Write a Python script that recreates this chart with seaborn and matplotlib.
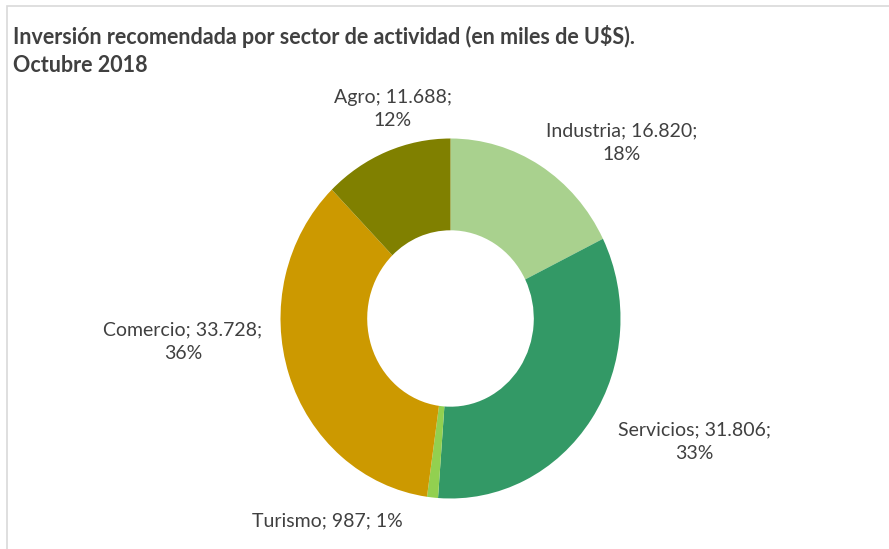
import matplotlib
matplotlib.use("Agg")
import matplotlib.pyplot as plt
import seaborn as sns
from matplotlib.patches import Rectangle

# ---- data ----
categories = ["Industria", "Servicios", "Turismo", "Comercio", "Agro"]
values = [16820, 31806, 987, 33728, 11688]
value_labels = ["16.820", "31.806", "987", "33.728", "11.688"]
percent_labels = ["18%", "33%", "1%", "36%", "12%"]
colors = ["#A9D18E", "#339966", "#92D050", "#CC9900", "#808000"]
title_lines = ["Inversión recomendada por sector de actividad (en miles de U$S).", "Octubre 2018"]

sns.set_theme(style="white")
plt.rcParams["font.family"] = ["Lato", "DejaVu Sans"]

W, H = 889, 549
fig = plt.figure(figsize=(W / 100, H / 100), dpi=100)
fig.patch.set_facecolor("white")

# pixel geometry of the donut (center, radii)
cx, cy = 450.5, 318.5
rx, ry = 170.0, 180.0

ax = fig.add_axes([0, 0, 1, 1])
ax.pie(values, colors=sns.color_palette(colors), startangle=90, counterclock=False,
       radius=1.0, wedgeprops=dict(width=0.51, linewidth=0))
ax.set_aspect("auto")
ax.set_xlim(-cx / rx, (W - cx) / rx)
ax.set_ylim(-(H - cy) / ry, cy / ry)
ax.axis("off")

def px(x, y):
    return ((x - cx) / rx, (cy - y) / ry)

text_color = "#404040"
label_pos = {
    "Industria": (622, 143),
    "Servicios": (694, 442),
    "Turismo": (327, 521),
    "Comercio": (183, 342),
    "Agro": (393, 109),
}
for cat, v, p in zip(categories, value_labels, percent_labels):
    if cat == "Turismo":
        txt = f"{cat}; {v}; {p}"
    else:
        txt = f"{cat}; {v};\n{p}"
    x, y = px(*label_pos[cat])
    ax.text(x, y, txt, ha="center", va="center", multialignment="center",
            fontsize=14, color=text_color, linespacing=1.48, clip_on=False)

fig.text(13 / W, 1 - 36 / H, title_lines[0], ha="left", va="center",
         fontsize=15.5, fontweight="bold", color=text_color)
fig.text(13 / W, 1 - 65 / H, title_lines[1], ha="left", va="center",
         fontsize=15.5, fontweight="bold", color=text_color)

# chart-area border (light gray), open at right and bottom
fig.patches.append(Rectangle((7 / W, -0.1), 1.2, 1 - 6.5 / H + 0.1, transform=fig.transFigure,
                             fill=False, edgecolor="#D9D9D9", linewidth=1.2))

fig.savefig("out.png", dpi=100, facecolor="white")
